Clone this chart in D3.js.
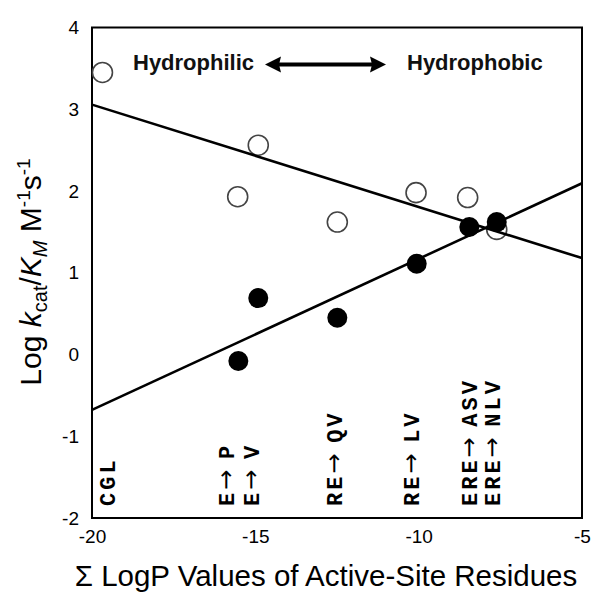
<!DOCTYPE html>
<html>
<head>
<meta charset="utf-8">
<script src="https://cdn.jsdelivr.net/npm/d3@7"></script>
<style>
  html, body { margin: 0; padding: 0; background: #fff; }
  svg { display: block; }
</style>
</head>
<body>
<svg id="chart" width="600" height="599"></svg>
<script>
// ---- data ----
const openX   = [-19.68, -15.54, -14.91, -12.49, -10.08, -8.50, -7.61];
const openY   = [3.45, 1.93, 2.56, 1.62, 1.98, 1.92, 1.53];
const filledX = [-15.52, -14.91, -12.49, -10.06, -8.45, -7.61];
const filledY = [-0.08, 0.69, 0.45, 1.11, 1.56, 1.62];
const mutantPre    = ["CGL", "E", "E", "RE", "RE", "ERE", "ERE"];
const mutantPost   = ["", "P", "V", "QV", "LV", "ASV", "NLV"];
const mutantX      = [-19.51, -15.87, -15.09, -12.56, -10.2, -8.43, -7.71];
const xTicks = [-20, -15, -10, -5];
const yTicks = [-2, -1, 0, 1, 2, 3, 4];

// ---- layout ----
const svg = d3.select("#chart");
const L = 92, R = 582, T = 27.5, B = 518;
const x = d3.scaleLinear().domain([-20, -5]).range([L, R]);
const y = d3.scaleLinear().domain([-2, 4]).range([B, T]);
const SANS = "Liberation Sans, Arial, sans-serif";

function fit(xs, ys) {
  const mx = d3.mean(xs), my = d3.mean(ys);
  let sxy = 0, sxx = 0;
  xs.forEach((v, i) => { sxy += (v - mx) * (ys[i] - my); sxx += (v - mx) * (v - mx); });
  const b = sxy / sxx;
  return v => my + b * (v - mx);
}

// frame
svg.append("rect").attr("x", L).attr("y", T).attr("width", R - L).attr("height", B - T)
  .attr("fill", "none").attr("stroke", "#000").attr("stroke-width", 2);

// axes (labels only, no tick marks)
const yAxis = d3.axisLeft(y).tickValues(yTicks).tickSize(0).tickPadding(13).tickFormat(d => String(d));
const gy = svg.append("g").attr("transform", `translate(${L},0)`).call(yAxis);
gy.select(".domain").remove();
gy.selectAll("text").attr("font-family", SANS).attr("font-size", 19).attr("fill", "#000");

const xAxis = d3.axisBottom(x).tickValues(xTicks).tickSize(0).tickPadding(12).tickFormat(d => String(d));
const gx = svg.append("g").attr("transform", `translate(0,${B})`).call(xAxis);
gx.select(".domain").remove();
gx.selectAll("text").attr("font-family", SANS).attr("font-size", 19).attr("fill", "#000");

// open circles
svg.append("g").selectAll("circle").data(openX).join("circle")
  .attr("cx", d => x(d)).attr("cy", (d, i) => y(openY[i])).attr("r", 10)
  .attr("fill", "none").attr("stroke", "#444").attr("stroke-width", 1.6);

// regression lines
const fo = fit(openX, openY), ff = fit(filledX, filledY);
const line = d3.line().x(d => x(d[0])).y(d => y(d[1]));
[fo, ff].forEach(f => {
  svg.append("path").datum([[-20, f(-20)], [-5, f(-5)]]).attr("d", line)
    .attr("fill", "none").attr("stroke", "#000").attr("stroke-width", 2.6);
});

// filled circles
svg.append("g").selectAll("circle").data(filledX).join("circle")
  .attr("cx", d => x(d)).attr("cy", (d, i) => y(filledY[i])).attr("r", 10)
  .attr("fill", "#000");

// rotated mutant labels
const ml = svg.append("g").selectAll("text").data(mutantPre).join("text")
  .attr("transform", (d, i) => `translate(${x(mutantX[i]) + 7},506) rotate(-90)`)
  .attr("font-family", "Liberation Mono, DejaVu Sans Mono, monospace").attr("font-weight", "bold")
  .attr("font-size", 22).attr("letter-spacing", 3).attr("fill", "#000");
ml.each(function(d, i) {
  const t = d3.select(this);
  t.append("tspan").text(d);
  if (mutantPost[i] !== "") {
    t.append("tspan").attr("font-family", "DejaVu Sans, sans-serif").attr("font-weight", "normal")
      .attr("font-size", 24).attr("letter-spacing", 0).text("\u2192 ");
    t.append("tspan").attr("dx", 3).text(mutantPost[i]);
  }
});

// top annotation
const ann = svg.append("g").attr("font-family", SANS)
  .attr("font-weight", "bold").attr("font-size", 22).attr("fill", "#111");
ann.append("text").attr("x", 133).attr("y", 69.5).text("Hydrophilic");
ann.append("text").attr("x", 407).attr("y", 69.5).text("Hydrophobic");
const ay = 64.5, ax1 = 265, ax2 = 386;
svg.append("line").attr("x1", ax1 + 12).attr("x2", ax2 - 12).attr("y1", ay).attr("y2", ay)
  .attr("stroke", "#000").attr("stroke-width", 4);
svg.append("path").attr("d", `M${ax1},${ay} L${ax1 + 16},${ay - 8} L${ax1 + 14},${ay} L${ax1 + 16},${ay + 8} Z`).attr("fill", "#000");
svg.append("path").attr("d", `M${ax2},${ay} L${ax2 - 16},${ay - 8} L${ax2 - 14},${ay} L${ax2 - 16},${ay + 8} Z`).attr("fill", "#000");

// y axis title
const yt = svg.append("text").attr("transform", "translate(41,272) rotate(-90)")
  .attr("text-anchor", "middle").attr("font-family", SANS)
  .attr("font-size", 30).attr("fill", "#000");
yt.append("tspan").text("Log ");
yt.append("tspan").attr("font-style", "italic").text("k");
yt.append("tspan").attr("font-size", 20).attr("dy", 6).text("cat");
yt.append("tspan").attr("dy", -6).text("/");
yt.append("tspan").attr("font-style", "italic").text("K");
yt.append("tspan").attr("font-size", 20).attr("font-style", "italic").attr("dy", 6).text("M");
yt.append("tspan").attr("dy", -6).text(" M");
yt.append("tspan").attr("font-size", 19).attr("dy", -11).text("-1");
yt.append("tspan").attr("dy", 11).text("s");
yt.append("tspan").attr("font-size", 19).attr("dy", -11).text("-1");

// x axis title
svg.append("text").attr("x", 326).attr("y", 586).attr("text-anchor", "middle")
  .attr("font-family", SANS).attr("font-size", 29.5).attr("fill", "#000")
  .text("\u03a3 LogP Values of Active-Site Residues");
</script>
</body>
</html>
